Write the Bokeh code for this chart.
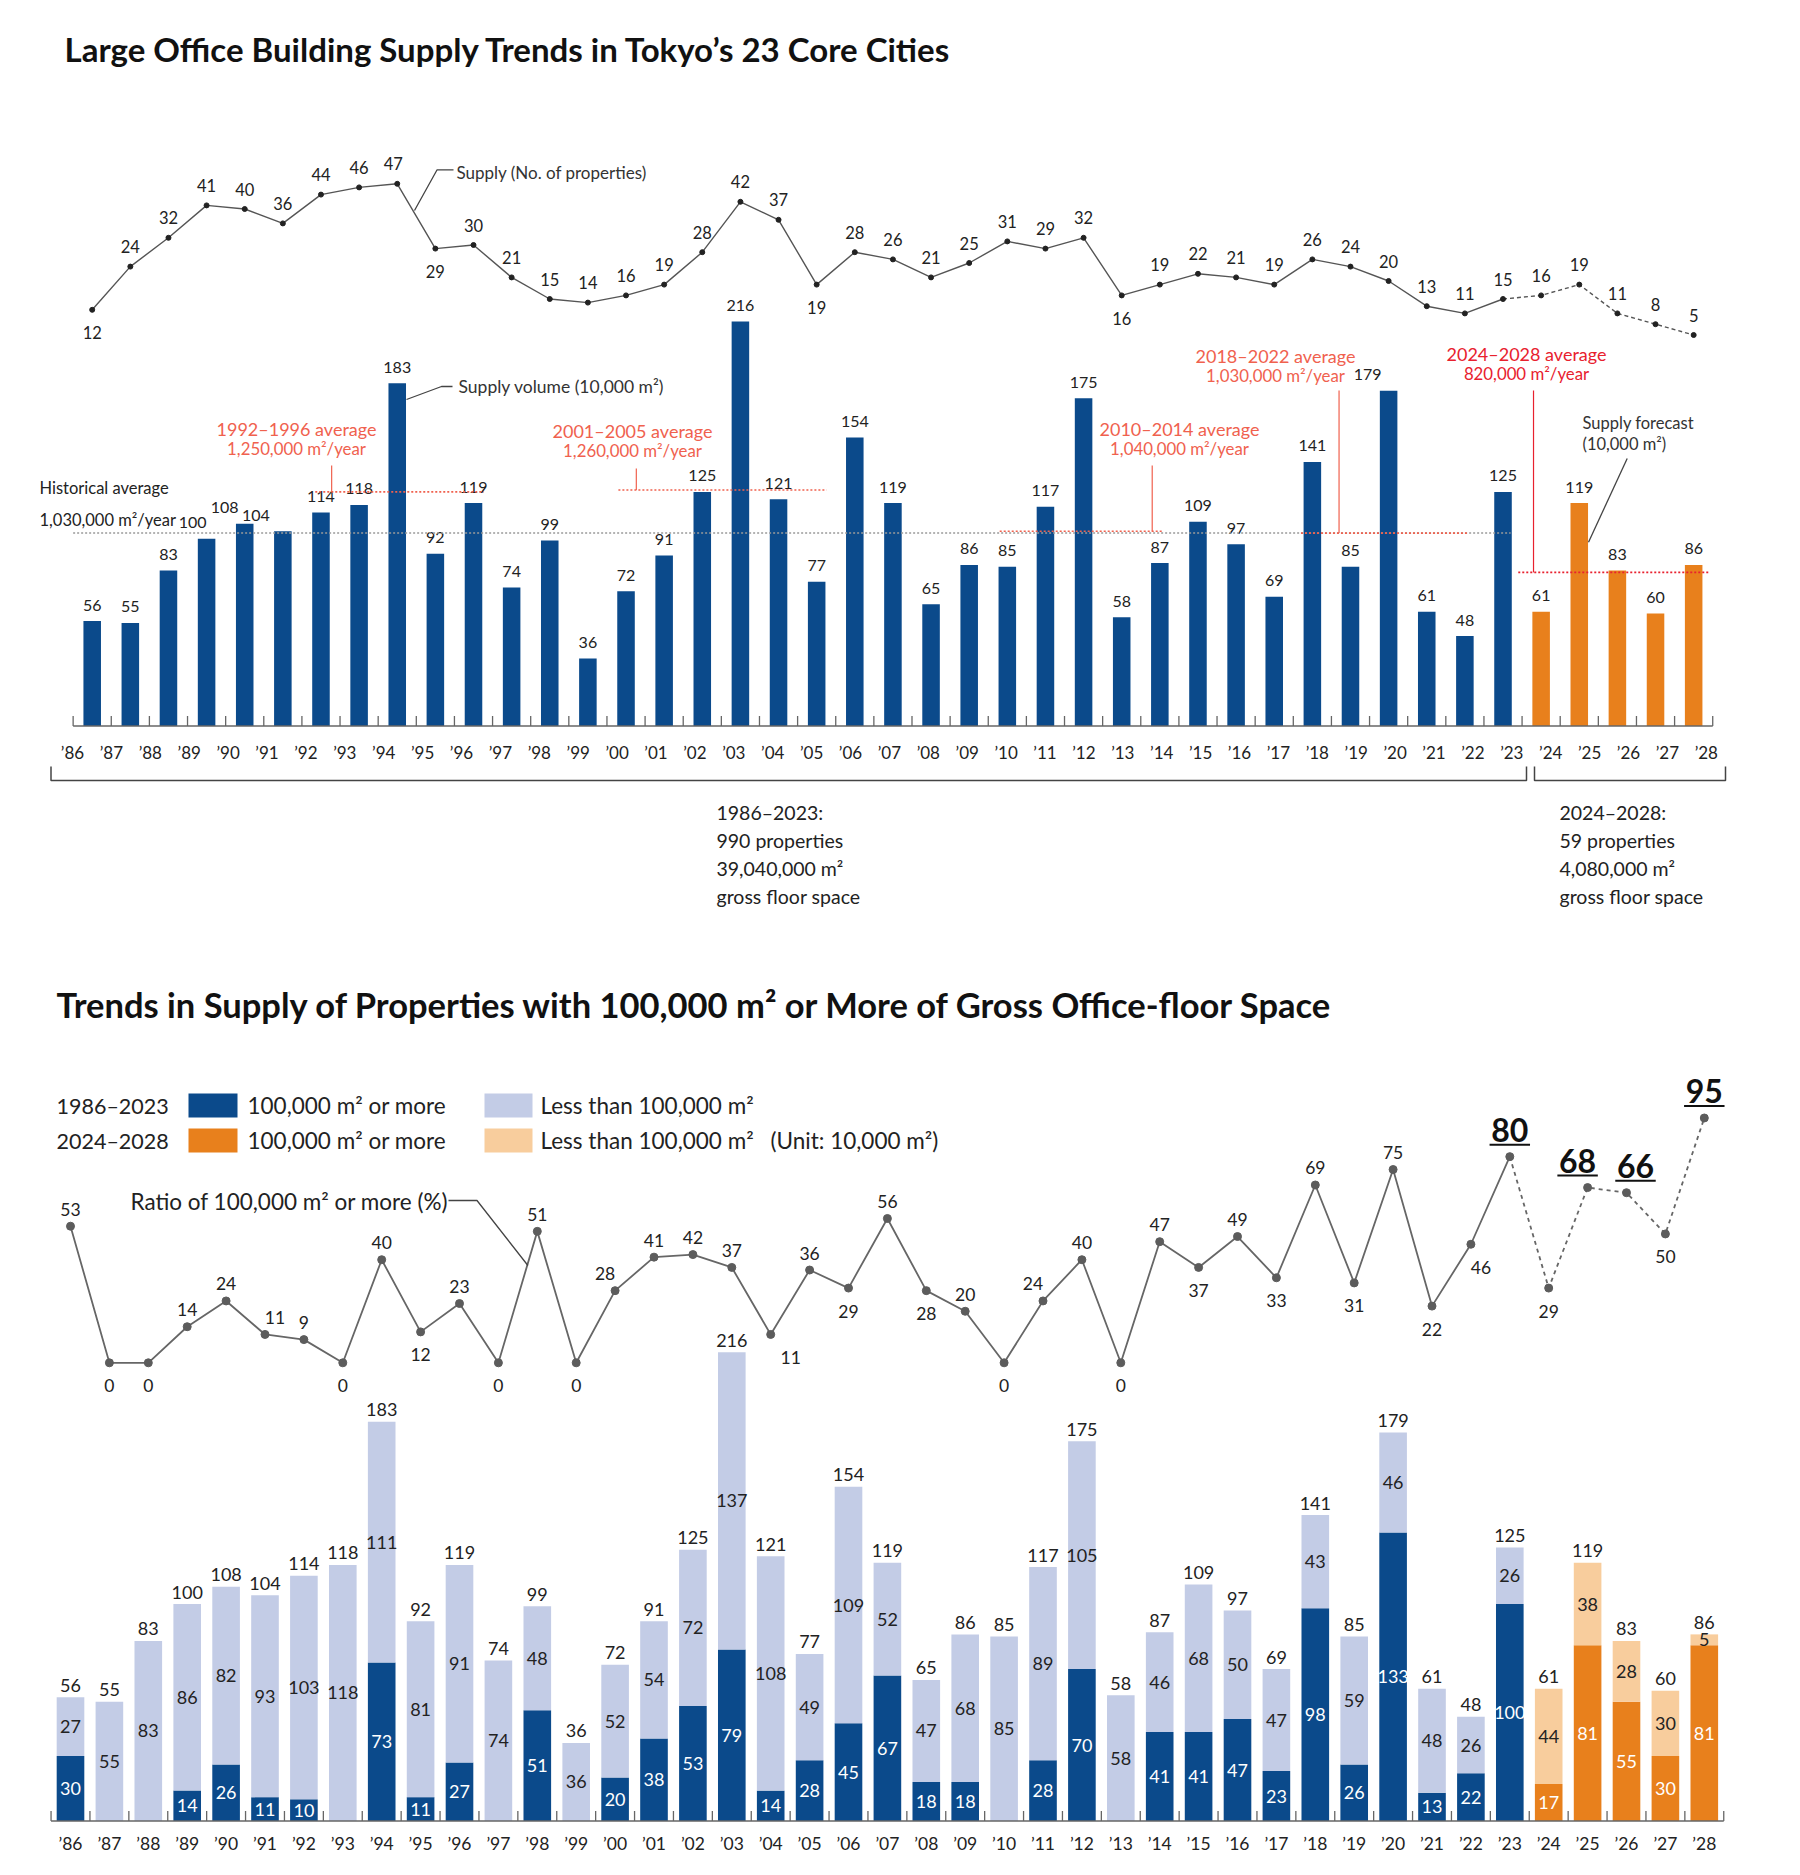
from bokeh.plotting import figure
from bokeh.models import Range1d, ColumnDataSource
from bokeh.embed import file_html
from bokeh.resources import INLINE
from bokeh.core.properties import value

# ---------------- data ----------------
years = list(range(1986, 2029))
year_labels = ["\u2019" + str(y)[2:] for y in years]
supply_volume = [56, 55, 83, 100, 108, 104, 114, 118, 183, 92,
                 119, 74, 99, 36, 72, 91, 125, 216, 121, 77,
                 154, 119, 65, 86, 85, 117, 175, 58, 87, 109,
                 97, 69, 141, 85, 179, 61, 48, 125,
                 61, 119, 83, 60, 86]
supply_count = [12, 24, 32, 41, 40, 36, 44, 46, 47, 29,
                30, 21, 15, 14, 16, 19, 28, 42, 37, 19,
                28, 26, 21, 25, 31, 29, 32, 16, 19, 22,
                21, 19, 26, 24, 20, 13, 11, 15,
                16, 19, 11, 8, 5]
large_volume = [30, 0, 0, 14, 26, 11, 10, 0, 73, 11,
                27, 0, 51, 0, 20, 38, 53, 79, 14, 28,
                45, 67, 18, 18, 0, 28, 70, 0, 41, 41,
                47, 23, 98, 26, 133, 13, 22, 100,
                17, 81, 55, 30, 81]
small_volume = [27, 55, 83, 86, 82, 93, 103, 118, 111, 81,
                91, 74, 48, 36, 52, 54, 72, 137, 108, 49,
                109, 52, 47, 68, 85, 89, 105, 58, 46, 68,
                50, 47, 43, 59, 46, 48, 26, 26,
                44, 38, 28, 30, 5]
large_ratio = [53, 0, 0, 14, 24, 11, 9, 0, 40, 12,
               23, 0, 51, 0, 28, 41, 42, 37, 11, 36,
               29, 56, 28, 20, 0, 24, 40, 0, 47, 37,
               49, 33, 69, 31, 75, 22, 46, 80,
               29, 68, 66, 50, 95]
first_forecast_year = 2024
historical_avg = 103
avg_periods = [(1992, 1996), (2001, 2005), (2010, 2014), (2018, 2022), (2024, 2028)]
avg_values = [125, 126, 104, 103, 82]
avg_texts = ["1,250,000 m\u00b2/year", "1,260,000 m\u00b2/year", "1,040,000 m\u00b2/year",
             "1,030,000 m\u00b2/year", "820,000 m\u00b2/year"]
highlight_years = [2023, 2025, 2026, 2028]

# ---------------- style ----------------
FONT = "Lato"
BLUE = "#0b4a8b"
ORANGE = "#e8801c"
LBLUE = "#c3cce6"
LORANGE = "#f8cd9d"
SALMON = "#f0614e"
RED = "#e8212e"
TXT = "#222222"

W, H = 1784, 1859
OX, OY = 0, 0


def xr(origin, ppu):
    return Range1d(start=(OX - origin) / ppu, end=(OX + W - origin) / ppu)


def yr(base, ppu):
    return Range1d(start=(base - (OY + H)) / ppu, end=(base - OY) / ppu)


X1 = (91.7, 38.13)
Y1 = (725.5, 1.873)
N1 = (352.5, 3.6)
X2 = (70.0, 38.9)
B2 = (1820.5, 2.17)
R2 = (1362.3, 2.577)

p = figure(width=W, height=H, x_range=xr(*X1), y_range=yr(*Y1), min_border=0,
           toolbar_location=None, output_backend="svg", x_axis_location=None,
           y_axis_location=None, outline_line_color=None, title=None,
           background_fill_color="white", border_fill_color="white")
p.extra_x_ranges = {"x2": xr(*X2), "px": Range1d(OX, OX + W)}
p.extra_y_ranges = {"n1": yr(*N1), "b2": yr(*B2), "r2": yr(*R2), "py": Range1d(OY + H, OY)}
p.grid.visible = False


def txt(x, y, s, size, color=TXT, align="left", bold=False, xname="px", yname="py"):
    p.text(x=[x], y=[y], text=[s], text_font=value(FONT), text_font_size=f"{size}px",
           text_color=color, text_align=align, text_baseline="middle",
           text_font_style="bold" if bold else "normal",
           x_range_name=xname, y_range_name=yname)


def v1(py):
    return (Y1[0] - py) / Y1[1]


def vb2(py):
    return (B2[0] - py) / B2[1]


idx = list(range(len(years)))
n = len(years)
fc = years.index(first_forecast_year)

# ================= TOP CHART =================
txt(64, 48, "Large Office Building Supply Trends in Tokyo\u2019s 23 Core Cities", 33, "#111", bold=True)

bar_colors = [BLUE if y < first_forecast_year else ORANGE for y in years]
p.vbar(x="x", top="top", bottom=0, width=0.46, fill_color="c", line_color=None,
       source=ColumnDataSource(dict(x=idx, top=supply_volume, c=bar_colors)))

top_xoff = {1989: -14, 1990: -20, 1991: -27, 2020: -21}
p.text(x="x", y="y", text="t", x_offset="xo", y_offset=-16, text_align="center",
       text_baseline="middle", text_font=value(FONT), text_font_size="16px", text_color=TXT,
       source=ColumnDataSource(dict(x=idx, y=supply_volume, t=[str(v) for v in supply_volume],
                                    xo=[top_xoff.get(y, 0) for y in years])))

# historical average
p.line(x=[-0.5, fc - 0.8], y=[historical_avg] * 2, line_color="#9a9a9a", line_width=1.5,
       line_dash="2 2")
txt(39, 487, "Historical average", 16.5)
txt(39, 519, "1,030,000 m\u00b2/year", 16.5)

# period averages
avg_layout = [
    dict(lo=-0.15, hi=0.27, vx=0.28, vtop=465, lx=296, ly=428, col=SALMON),
    dict(lo=-1.2, hi=0.26, vx=-0.73, vtop=468, lx=632, ly=430, col=SALMON),
    dict(lo=-0.2, hi=0.1, vx=3.8, vtop=465, lx=1179, ly=428, col=SALMON),
    dict(lo=-0.3, hi=0.1, vx=0.7, vtop=390, lx=1275, ly=355, col=SALMON),
    dict(lo=-0.6, hi=0.4, vx=-0.2, vtop=390, lx=1526, ly=353, col=RED),
]
for (a, b), val, t, L in zip(avg_periods, avg_values, avg_texts, avg_layout):
    i0 = years.index(a)
    i1 = years.index(b)
    p.line(x=[i0 + L["lo"], i1 + L["hi"]], y=[val, val], line_color=L["col"], line_width=1.6,
           line_dash="2 2")
    vx = i0 + L["vx"]
    p.line(x=[vx, vx], y=[v1(L["vtop"]), val], line_color=L["col"], line_width=1.2)
    txt(L["lx"], L["ly"], f"{a}\u2013{b} average", 18, L["col"], align="center")
    txt(L["lx"], L["ly"] + 20, t, 16.8, L["col"], align="center")

# supply count line
split = years.index(2023)
p.line(x=idx[:split + 1], y=supply_count[:split + 1], y_range_name="n1",
       line_color="#555555", line_width=1.4)
p.line(x=idx[split:], y=supply_count[split:], y_range_name="n1",
       line_color="#555555", line_width=1.4, line_dash="4 3")
p.scatter(x=idx, y=supply_count, y_range_name="n1", size=5, color="#222222")
below_top = {1986, 1995, 2005, 2013}
p.text(x="x", y="y", text="t", x_offset="xo", y_offset="yo", y_range_name="n1",
       text_align="center", text_baseline="middle", text_font=value(FONT),
       text_font_size="16.5px", text_color=TXT,
       source=ColumnDataSource(dict(
           x=idx, y=supply_count, t=[str(v) for v in supply_count],
           xo=[-4 if y == 1994 else 0 for y in years],
           yo=[23 if y in below_top else -20 for y in years])))

# annotations with leaders
txt(456, 172, "Supply (No. of properties)", 17, "#333")
p.line(x=[414, 436.6, 453], y=[210, 169.3, 169.3], x_range_name="px", y_range_name="py",
       line_color="#444", line_width=1.3)
txt(458, 386, "Supply volume (10,000 m\u00b2)", 17.5, "#333")
p.line(x=[406, 441, 452], y=[399, 386, 386], x_range_name="px", y_range_name="py",
       line_color="#444", line_width=1.3)
txt(1582, 422, "Supply forecast", 16.5, "#333")
txt(1582, 443, "(10,000 m\u00b2)", 16.5, "#333")
p.line(x=[1626.7, 1588], y=[458, 541.7], x_range_name="px", y_range_name="py",
       line_color="#444", line_width=1.3)

# axis
p.line(x=[-0.5, n - 0.5], y=[0, 0], line_color="#666", line_width=1.5)
p.segment(x0=[i - 0.5 for i in range(n + 1)], x1=[i - 0.5 for i in range(n + 1)],
          y0=0, y1=10 / Y1[1], line_color="#666", line_width=1.3)
p.text(x=idx, y=[v1(752)] * n, text=year_labels, x_offset=2, x_range_name="x2",
       text_align="center", text_baseline="middle", text_font=value(FONT),
       text_font_size="17px", text_color=TXT)

# brackets
p.multi_line(xs=[[50.5, 50.5, 1526, 1526], [1534, 1534, 1725, 1725]],
             ys=[[766, 780, 780, 766], [766, 780, 780, 766]],
             x_range_name="px", y_range_name="py", line_color="#444", line_width=1.5)
for i, s in enumerate(["1986\u20132023:", "990 properties", "39,040,000 m\u00b2", "gross floor space"]):
    txt(716, 812 + i * 28, s, 19.5)
for i, s in enumerate(["2024\u20132028:", "59 properties", "4,080,000 m\u00b2", "gross floor space"]):
    txt(1559, 812 + i * 28, s, 19.5)

# ================= BOTTOM CHART =================
txt(56, 1004, "Trends in Supply of Properties with 100,000 m\u00b2 or More of Gross Office-floor Space",
    34.5, "#111", bold=True)

# legend
p.quad(left=[188, 188, 484, 484], right=[237, 237, 532, 532],
       top=[1093, 1128, 1093, 1128], bottom=[1117, 1152, 1117, 1152],
       fill_color=[BLUE, ORANGE, LBLUE, LORANGE], line_color=None,
       x_range_name="px", y_range_name="py")
txt(56, 1105, "1986\u20132023", 21.5)
txt(56, 1140, "2024\u20132028", 21.5)
txt(247, 1105, "100,000 m\u00b2 or more", 22.5)
txt(247, 1140, "100,000 m\u00b2 or more", 22.5)
txt(540, 1105, "Less than 100,000 m\u00b2", 22.5)
txt(540, 1140, "Less than 100,000 m\u00b2", 22.5)
txt(770, 1140, "(Unit: 10,000 m\u00b2)", 22.5)

# stacked bars
dark_c = [BLUE if y < first_forecast_year else ORANGE for y in years]
light_c = [LBLUE if y < first_forecast_year else LORANGE for y in years]
stack_top = [a + b for a, b in zip(large_volume, small_volume)]
p.vbar(x="x", top="t", bottom=0, width=0.71, fill_color="c", line_color=None,
       x_range_name="x2", y_range_name="b2",
       source=ColumnDataSource(dict(x=idx, t=large_volume, c=dark_c)))
p.vbar(x="x", top="t", bottom="b", width=0.71, fill_color="c", line_color=None,
       x_range_name="x2", y_range_name="b2",
       source=ColumnDataSource(dict(x=idx, t=stack_top, b=large_volume, c=light_c)))

dk = [i for i in idx if large_volume[i] > 0]
p.text(x=[i for i in dk], y=[large_volume[i] / 2 for i in dk], text=[str(large_volume[i]) for i in dk],
       x_range_name="x2", y_range_name="b2", text_align="center", text_baseline="middle",
       text_font=value(FONT), text_font_size="18px", text_color="white")
lt = [i for i in idx if small_volume[i] > 0]
p.text(x=lt, y=[large_volume[i] + small_volume[i] / 2 for i in lt],
       text=[str(small_volume[i]) for i in lt],
       x_range_name="x2", y_range_name="b2", text_align="center", text_baseline="middle",
       text_font=value(FONT), text_font_size="18px", text_color=TXT)
p.text(x=idx, y=stack_top, text=[str(v) for v in supply_volume], y_offset=-12,
       x_range_name="x2", y_range_name="b2", text_align="center", text_baseline="middle",
       text_font=value(FONT), text_font_size="18px", text_color=TXT)

# axis bottom
p.line(x=[-0.5, n - 0.5], y=[0, 0], x_range_name="x2", y_range_name="b2",
       line_color="#666", line_width=1.5)
p.segment(x0=[i - 0.5 for i in range(n + 1)], x1=[i - 0.5 for i in range(n + 1)],
          y0=0, y1=10 / B2[1], x_range_name="x2", y_range_name="b2",
          line_color="#666", line_width=1.3)
p.text(x=idx, y=[vb2(1843)] * n, text=year_labels, x_range_name="x2", y_range_name="b2",
       text_align="center", text_baseline="middle", text_font=value(FONT),
       text_font_size="17.5px", text_color=TXT)

# ratio line
p.line(x=idx[:split + 1], y=large_ratio[:split + 1], x_range_name="x2", y_range_name="r2",
       line_color="#666666", line_width=1.8)
p.line(x=idx[split:], y=large_ratio[split:], x_range_name="x2", y_range_name="r2",
       line_color="#666666", line_width=1.8, line_dash="4 4")
p.scatter(x=idx, y=large_ratio, x_range_name="x2", y_range_name="r2", size=8,
          color="#5c5c5c")

below_r = {1987, 1988, 1993, 1995, 1997, 1999, 2004, 2006, 2008, 2010, 2013, 2015,
           2017, 2019, 2021, 2022, 2024, 2027}
xoff_r = {1991: 10, 2000: -10, 2004: 20, 2011: -10, 2022: 10, 2025: -10, 2026: 9}
norm = [i for i in idx if years[i] not in highlight_years]
p.text(x="x", y="y", text="t", x_offset="xo", y_offset="yo",
       x_range_name="x2", y_range_name="r2", text_align="center", text_baseline="middle",
       text_font=value(FONT), text_font_size="17.5px", text_color=TXT,
       source=ColumnDataSource(dict(
           x=norm, y=[large_ratio[i] for i in norm], t=[str(large_ratio[i]) for i in norm],
           xo=[xoff_r.get(years[i], 0) for i in norm],
           yo=[23 if years[i] in below_r else -17 for i in norm])))
hl = [years.index(y) for y in highlight_years]
p.text(x="x", y="y", text="t", x_offset="xo", y_offset=-27,
       x_range_name="x2", y_range_name="r2", text_align="center", text_baseline="middle",
       text_font=value(FONT), text_font_size="32px", text_font_style="bold", text_color="#111",
       source=ColumnDataSource(dict(
           x=hl, y=[large_ratio[i] for i in hl], t=[str(large_ratio[i]) for i in hl],
           xo=[xoff_r.get(years[i], 0) for i in hl])))
p.segment(x0=[i + xoff_r.get(years[i], 0) / X2[1] - 0.52 for i in hl],
          x1=[i + xoff_r.get(years[i], 0) / X2[1] + 0.52 for i in hl],
          y0=[large_ratio[i] + 12 / R2[1] for i in hl],
          y1=[large_ratio[i] + 12 / R2[1] for i in hl],
          x_range_name="x2", y_range_name="r2", line_color="#111", line_width=2)

txt(130, 1201, "Ratio of 100,000 m\u00b2 or more (%)", 22.5)
p.line(x=[448, 476.5, 527.4], y=[1200, 1200, 1265], x_range_name="px", y_range_name="py",
       line_color="#444", line_width=1.3)

open("out.html", "w").write(file_html(p, INLINE, "Large Office Building Supply Trends"))
